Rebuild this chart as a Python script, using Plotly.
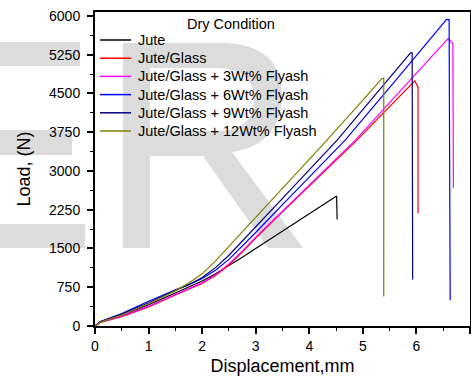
import plotly.graph_objects as go

# ---------------- data ----------------
names = ["Jute", "Jute/Glass", "Jute/Glass + 3Wt% Flyash", "Jute/Glass + 6Wt% Flyash",
         "Jute/Glass + 9Wt% Flyash", "Jute/Glass + 12Wt% Flyash"]
colors = ["#000000", "#ff0000", "#ff00ff", "#0000ff", "#000080", "#808000"]

jute_x = [0, 0.1, 0.5, 1, 1.5, 1.75, 2, 2.25, 2.5, 2.75, 3, 3.5, 4, 4.5, 4.51, 4.52]
jute_y = [0, 75, 200, 410, 640, 750, 870, 1010, 1165, 1330, 1500, 1840, 2180, 2516, 2516, 2060]

glass_x = [0, 0.1, 0.5, 1, 1.5, 1.75, 2, 2.25, 2.5, 2.75, 3, 3.5, 4.89, 5.97, 6.03, 6.03]
glass_y = [0, 70, 180, 370, 600, 705, 825, 975, 1180, 1430, 1700, 2210, 3598, 4745, 4618, 2180]

fa3_x = [0, 0.1, 0.5, 1, 1.5, 1.75, 2, 2.25, 2.5, 2.75, 3, 3.5, 4.86, 5.7, 6.59, 6.68, 6.69]
fa3_y = [0, 75, 190, 380, 610, 715, 835, 990, 1200, 1450, 1720, 2220, 3598, 4550, 5564, 5467, 2670]

fa6_x = [0, 0.1, 0.5, 1, 1.5, 1.75, 2, 2.25, 2.5, 2.75, 3, 3.5, 4.67, 5.6, 6.56, 6.61, 6.63]
fa6_y = [0, 85, 240, 480, 700, 800, 920, 1080, 1290, 1540, 1810, 2350, 3598, 4740, 5930, 5930, 500]

fa9_x = [0, 0.1, 0.5, 1, 1.5, 1.75, 2, 2.25, 2.5, 2.75, 3, 3.5, 4.52, 5.2, 5.89, 5.92, 5.93]
fa9_y = [0, 80, 230, 450, 690, 800, 940, 1130, 1370, 1640, 1920, 2470, 3598, 4440, 5286, 5286, 900]

fa12_x = [0, 0.1, 0.5, 1, 1.5, 1.75, 2, 2.25, 2.5, 2.75, 3, 3.5, 4.33, 5.0, 5.36, 5.39, 5.39]
fa12_y = [0, 75, 210, 430, 680, 830, 1010, 1260, 1540, 1820, 2110, 2660, 3598, 4370, 4791, 4791, 570]

series = [(jute_x, jute_y), (glass_x, glass_y), (fa3_x, fa3_y),
          (fa6_x, fa6_y), (fa9_x, fa9_y), (fa12_x, fa12_y)]

y_ticks = [0, 750, 1500, 2250, 3000, 3750, 4500, 5250, 6000]
x_ticks = [0, 1, 2, 3, 4, 5, 6, 7]

FONT = "Liberation Sans, Arial, sans-serif"
W, H = 471, 379
L, R, T, B = 95, 1, 12, 53
PW, PH = W - L - R, H - T - B

fig = go.Figure()
for (xs, ys), n, c in zip(series, names, colors):
    fig.add_trace(go.Scatter(x=xs, y=ys, mode="lines", name=n, showlegend=False,
                             line=dict(color=c, width=1.2)))

# pixel -> paper helpers (for decorations only)
def px(xp):
    return (xp - L) / PW

def py(yp):
    return (H - B - yp) / PH

# ---------------- watermark (background) ----------------
GRAY = "#dcdcdc"
for (x0, y0, x1, y1) in [(-5, 42, 80, 66), (-5, 130, 72, 155), (-5, 224, 85, 248), (123, 43, 150, 248)]:
    fig.add_shape(type="rect", xref="paper", yref="paper", x0=px(x0), x1=px(x1),
                  y0=py(y1), y1=py(y0), fillcolor=GRAY, line_width=0, layer="below")

def P(xp, yp):
    return f"{px(xp):.4f},{py(yp):.4f}"

r_path = ("M " + P(150, 43) + " L " + P(225, 43) + " Q " + P(282, 45) + " " + P(282, 97)
          + " Q " + P(280, 145) + " " + P(232, 152) + " L " + P(303, 248) + " L " + P(268, 248)
          + " L " + P(203, 156) + " L " + P(150, 156) + " Z"
          + " M " + P(150, 68) + " L " + P(220, 68) + " Q " + P(254, 70) + " " + P(254, 99)
          + " Q " + P(254, 130) + " " + P(220, 131) + " L " + P(150, 131) + " Z")
fig.add_shape(type="path", xref="paper", yref="paper", path=r_path, fillcolor=GRAY,
              line_width=0, layer="below", fillrule="evenodd")

# ---------------- legend (drawn as key lines + text) ----------------
LEG_Y0, LEG_DY = 40, 18.2
for i, (n, c) in enumerate(zip(names, colors)):
    yy = py(LEG_Y0 + LEG_DY * i)
    fig.add_shape(type="line", xref="paper", yref="paper", x0=px(100), x1=px(131),
                  y0=yy, y1=yy, line=dict(color=c, width=1.5))
    fig.add_annotation(text=n, xref="paper", yref="paper", x=px(136), y=yy,
                       xanchor="left", yanchor="middle", showarrow=False,
                       font=dict(family=FONT, size=14.5, color="black"))

fig.add_annotation(text="Dry Condition", xref="paper", yref="paper", x=px(231), y=py(24),
                   showarrow=False, font=dict(family=FONT, size=14.5, color="black"),
                   xanchor="center", yanchor="middle")

axis_common = dict(showline=True, linecolor="black", linewidth=2, mirror=True,
                   ticks="outside", ticklen=6, tickwidth=1.5, tickcolor="black",
                   showgrid=False, zeroline=False, automargin=False,
                   tickfont=dict(family=FONT, size=14, color="black"))

fig.update_xaxes(range=[0, 7], tickvals=x_ticks,
                 minor=dict(ticks="outside", ticklen=3, tickwidth=1.2, dtick=0.5, tick0=0, tickcolor="black"),
                 title=dict(text="Displacement,mm", font=dict(family=FONT, size=18, color="black"), standoff=7),
                 **axis_common)
fig.update_yaxes(range=[0, 6077], tickvals=y_ticks, ticklabelstandoff=4,
                 minor=dict(ticks="outside", ticklen=3, tickwidth=1.2, dtick=375, tick0=0, tickcolor="black"),
                 title=dict(text="Load, (N)", font=dict(family=FONT, size=18, color="black"), standoff=14),
                 **axis_common)

fig.update_layout(width=W, height=H, margin=dict(l=L, r=R, t=T, b=B, autoexpand=False),
                  paper_bgcolor="white", plot_bgcolor="white",
                  font=dict(family=FONT, color="black"), showlegend=False)

fig.write_html("out.html", config={"displayModeBar": False},
               post_script="document.body.style.margin='0';document.body.style.padding='0';")
